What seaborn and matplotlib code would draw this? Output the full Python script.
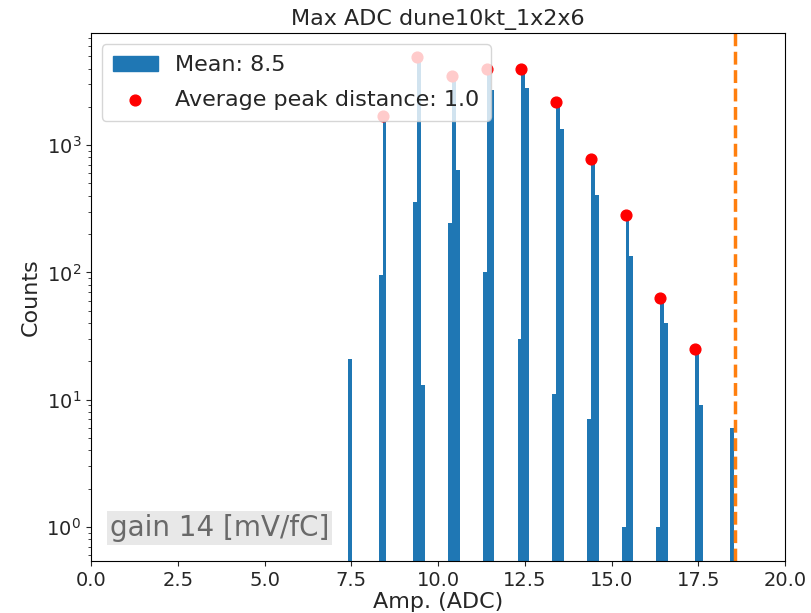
import numpy as np
import pandas as pd
import matplotlib
matplotlib.use("Agg")
import matplotlib.pyplot as plt
from matplotlib.patches import Patch
import seaborn as sns

# histogram: 100 bins between min and max amplitude
amp_min = 7.4
amp_max = 18.511
n_bins = 100

# nonzero bins (index of bin, counts)
bin_idx = [0,
           8, 9,
           17, 18, 19,
           26, 27, 28,
           35, 36, 37,
           44, 45, 46,
           53, 54, 55,
           62, 63, 64,
           71, 72, 73,
           80, 81, 82,
           90, 91,
           99]
bin_counts = [21,
              95, 1700,
              360, 4900, 13,
              245, 3500, 640,
              100, 3970, 2700,
              30, 3970, 2800,
              11, 2170, 1340,
              7, 775, 407,
              1, 285, 134,
              1, 63, 40,
              25, 9,
              6]

# peaks found
peak_x = [8.4, 9.4, 10.4, 11.4, 12.4, 13.4, 14.4, 15.4, 16.4, 17.4]
peak_y = [1700, 4900, 3500, 3970, 3970, 2170, 775, 285, 63, 25]

mean_amp = 8.5
avg_peak_dist = 1.0
saturation = 18.55
gain = 14

edges = np.linspace(amp_min, amp_max, n_bins + 1)
centers = 0.5 * (edges[:-1] + edges[1:])
df = pd.DataFrame({'amp': centers[bin_idx], 'count': bin_counts})

sns.set_style("ticks")
plt.rcParams['font.family'] = ['DejaVu Sans']

fig = plt.figure(figsize=(8.12, 6.13), dpi=100)
ax = fig.add_axes([0.112, 0.085, 0.855, 0.861])

sns.histplot(data=df, x='amp', weights='count', bins=list(edges), ax=ax,
             color='#1f77b4', alpha=1, linewidth=0, element='bars')
ax.set_yscale('log')

sc = ax.scatter(peak_x, peak_y, color='red', s=60, zorder=3,
                label=f'Average peak distance: {avg_peak_dist:.1f}')
ax.axvline(saturation, color='#ff7f0e', linestyle='--', linewidth=2.5)

ax.set_xlim(0, 20)
ax.set_ylim(0.54, 7600)

ax.set_title('Max ADC dune10kt_1x2x6', fontsize=16)
ax.set_xlabel('Amp. (ADC)', fontsize=16, labelpad=2)
ax.set_ylabel('Counts', fontsize=16)
ax.tick_params(labelsize=14)
for s in ax.spines.values():
    s.set_color('black')

handles = [Patch(color='#1f77b4', label=f'Mean: {mean_amp:.1f}'), sc]
leg = ax.legend(handles=handles, loc='upper left', fontsize=16,
                labelspacing=0.65, borderpad=0.5)
leg.set_zorder(5)

ax.text(0.027, 0.047, f'gain {gain} [mV/fC]', transform=ax.transAxes,
        fontsize=20, color='dimgray',
        bbox=dict(facecolor='lightgray', alpha=0.5, edgecolor='none', pad=2))

fig.savefig('out.png', dpi=100)
